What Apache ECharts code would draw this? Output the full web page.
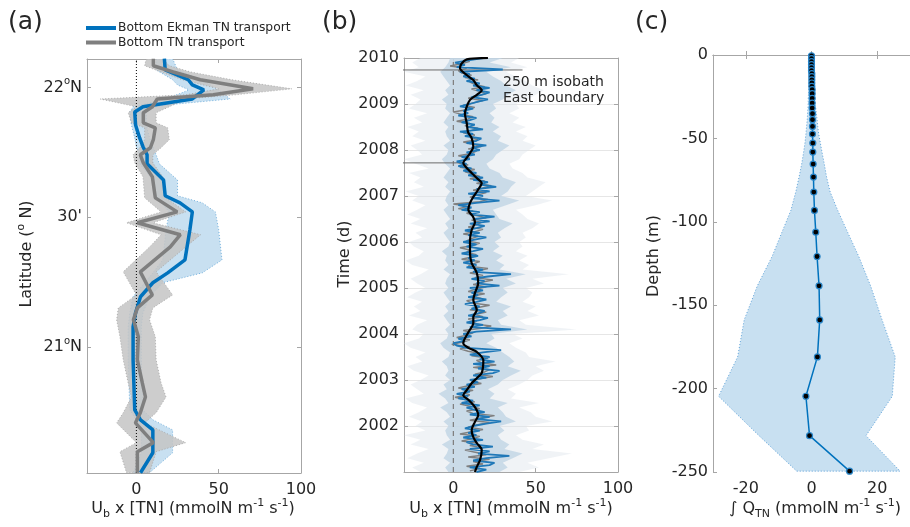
<!DOCTYPE html>
<html><head><meta charset="utf-8">
<script src="https://cdn.jsdelivr.net/npm/echarts@6/dist/echarts.min.js"></script>
<style>html,body{margin:0;padding:0;background:#fff}#c{width:910px;height:527px}</style>
</head><body><div id="c"></div>
<script>
// ---------- Panel (a) data ----------
const blueLat = [22.111,22.068,22.030,22.010,21.991,21.956,21.937,21.926,21.906,21.856,21.806,21.772,21.741,21.706,21.644,21.583,21.556,21.521,21.452,21.336,21.286,21.248,21.194,21.132,21.078,20.951,20.758,20.720,20.681,20.593,20.516];
const blueVal = [17,17.5,31.5,34,41,34,14.5,4,-1,-0.5,2,4,6.5,6.5,16.5,17.5,26.5,34,32.5,29.5,19,10,2.5,-0.5,-2,-2,-1,2.5,10,10,2.5];
const blueLo  = [12,12,22,25,32,18,5,-2,-4,-3,-1,0,2,2,10,12,15,20,18,16,10,5,-2,-4,-5,-5,-4,0,3,3,-2];
const blueHi  = [22,25,40,45,50,57,25,12,6,6,8,10,12,14,25,25,40,48,50,52,40,16,8,4,3,3,4,10,22,22,8];

const grayLat = [22.111,22.084,22.060,22.030,21.995,21.972,21.956,21.926,21.903,21.864,21.845,21.799,21.768,21.741,21.710,21.656,21.575,21.521,21.479,21.433,21.386,21.290,21.201,21.151,21.105,21.040,20.951,20.862,20.808,20.747,20.708,20.632,20.597,20.516];
const grayVal = [10.3,10.3,22.4,38.8,70.9,46.7,12.7,9.7,4.2,4.2,11.5,10.3,8.5,2.4,4.2,9.7,11.5,24.8,0.6,26.7,20.6,2.4,9.7,0.6,-1.8,1.2,0.6,3.6,5.5,2.4,-0.6,10.3,0.6,0.6];
const grayLo  = [6,5,15,28,50,30,-22,0,-5,-3,5,5,2,-2,-1,4,5,15,-6,15,8,-8,0,-11,-12,-10,-8,-5,-3,-8,-12,0,-10,-6];
const grayHi  = [16,20,33,58,94.5,60,30,20,12,12,19,20,15,10,10,16,18,30,10,39,30,12,22,10,8,11.5,12,15,18,12,5,30,12,8];
const latTicks = [21, 21.5, 22];
const xTicksAB = [0, 50, 100];

// ---------- Panel (b) data ----------
const bStart = 2001, bStep = 0.05;   // daily record shown at ~0.05 yr resolution
const ekmanB = [14,20,10,22,25,12,20,34,15,22,10,24,12,8,18,6,14,9,16,7,
 12,20,29,14,22,10,19,13,8,16,5,12,3,9,2,10,5,13,8,15,
 10,20,12,24,28,15,22,12,25,16,22,10,18,29,8,2,0,7,3,11,
 6,14,35,10,18,8,16,21,9,15,19,11,16,7,14,20,9,15,11,18,
 10,28,14,19,11,21,35,12,18,8,14,6,13,9,15,5,12,18,8,14,
 6,13,20,9,16,7,14,19,10,22,13,25,10,16,5,11,3,14,28,12,
 18,9,22,14,26,16,21,12,18,9,14,6,11,3,8,2,10,5,13,8,
 16,11,20,8,14,17,7,12,4,18,9,13,5,10,14,3,9,6,12,4,
 10,15,21,11,17,22,14,22,12,16,8,13,6,10,4,30,2,7,1,9,18];
const tnStart = 2001.025;
const tnB = [10,16,8,18,12,22,9,20,14,7,18,10,15,5,12,16,4,11,18,9,
 14,22,10,17,25,12,8,16,11,4,13,7,1,10,6,12,3,9,17,11,
 16,24,13,19,22,12,26,17,14,21,11,16,9,4,10,-1,6,10,2,8,
 12,6,17,23,11,14,9,18,13,20,10,15,22,11,8,17,12,19,9,14,
 20,12,17,24,13,18,10,15,21,9,12,16,5,11,14,8,10,4,12,16,
 8,11,15,6,13,18,9,14,17,11,20,14,8,12,3,9,0,16,21,10,
 15,20,12,18,23,14,19,10,16,12,7,13,4,9,2,6,10,3,11,14,
 9,17,12,6,15,10,13,6,11,15,7,10,2,9,12,5,0,8,13,6,
 12,18,9,14,20,16,11,19,13,10,15,7,11,5,3,8,-2,5,10];
const spikeYears = [2007.72, 2009.74];
const spikeLeft  = [-45, -35];
const spikeRight = [2, 42];
const smoothYear = [2010.00,2009.97,2009.88,2009.78,2009.63,2009.52,2009.41,2009.30,2009.20,2009.09,2008.94,2008.80,2008.59,2008.39,2008.26,2008.07,2007.93,2007.83,2007.72,2007.61,2007.50,2007.39,2007.28,2007.13,2006.98,2006.85,2006.70,2006.54,2006.43,2006.26,2006.04,2005.76,2005.54,2005.33,2005.11,2004.89,2004.74,2004.52,2004.37,2004.24,2004.04,2003.80,2003.70,2003.61,2003.43,2003.15,2003.04,2002.93,2002.78,2002.67,2002.57,2002.41,2002.24,2002.09,2001.91,2001.76,2001.63,2001.48,2001.26,2001.11,2001.00];
const smoothVal  = [21.0,8.1,5.0,4.0,8.1,12.1,14.2,17.2,14.2,10.1,8.1,7.0,8.1,8.9,11.1,12.1,10.1,8.1,6.0,8.1,11.1,14.2,17.2,14.9,12.1,10.1,9.1,12.1,13.1,11.1,10.1,10.1,11.1,14.2,15.1,13.1,12.1,14.2,12.1,12.1,9.1,6.0,9.1,14.2,18.2,17.2,14.2,11.1,8.1,6.0,9.1,13.1,15.1,13.1,11.1,12.1,14.2,17.2,16.2,14.2,13.1];
const bandStep = 0.1;
const innerLo = [-3,-5,-2,-6,-4,-3,-7,-2,-4,-5,
 -3,-6,-2,-4,-8,-3,-5,-9,-4,-6,
 -2,-5,-3,-4,-7,-3,-2,-6,-8,-4,
 -3,-5,-2,-4,-6,-3,-5,-2,-4,-6,
 -3,-5,-4,-2,-6,-3,-5,-4,-7,-3,
 -2,-4,-6,-3,-5,-2,-4,-6,-3,-5,
 -4,-2,-5,-3,-6,-4,-2,-5,-7,-4,
 -3,-6,-2,-4,-5,-3,-6,-4,-2,-5,
 -4,-7,-3,-5,-2,-4,-6,-8,-5,-3,-2];
const innerHi = [28,33,30,36,42,31,34,29,27,31,
 28,38,32,30,27,33,22,25,21,27,
 30,35,41,33,37,34,30,26,20,25,
 23,45,29,27,33,30,35,26,29,33,
 30,38,32,44,28,31,26,30,24,28,
 25,29,27,31,36,28,26,24,32,40,
 29,33,35,38,30,28,22,20,24,26,
 30,34,27,29,24,28,23,25,22,26,
 24,30,33,38,32,29,24,20,35,22,30];
const outerLo = [-20,-25,-18,-28,-22,-15,-26,-20,-30,-17,
 -23,-19,-27,-21,-16,-25,-29,-18,-22,-26,
 -20,-15,-24,-28,-19,-23,-17,-26,-30,-21,
 -18,-25,-22,-16,-27,-20,-24,-19,-28,-23,
 -17,-22,-26,-20,-15,-25,-29,-21,-18,-24,
 -27,-19,-23,-16,-26,-20,-28,-22,-17,-25,
 -21,-29,-18,-24,-20,-27,-15,-23,-30,-19,
 -22,-26,-17,-25,-21,-28,-19,-24,-16,-27,
 -23,-20,-26,-18,-29,-22,-17,-30,-21,-25,-20];
const outerHi = [40,52,45,58,72,48,55,42,38,46,
 44,60,50,47,40,52,35,38,33,40,
 45,48,55,50,62,46,44,38,34,42,
 36,75,44,40,52,45,50,42,46,48,
 44,55,48,70,42,46,40,45,38,42,
 40,44,42,48,52,45,42,38,50,60,
 44,48,52,56,45,42,36,34,40,42,
 46,50,42,45,38,44,36,40,34,40,
 38,45,50,55,48,44,38,32,45,35,40];

// ---------- Panel (c) data ----------
const depthC = [-0.5,-2.2,-4.0,-5.8,-7.6,-9.4,-11.2,-13.0,-14.9,-16.8,-18.8,-20.8,-23.2,-26.0,-28.8,-31.8,-35.2,-38.8,-42.8,-47.4,-52.8,-58.2,-65.4,-73.2,-82.2,-93.2,-106.2,-120.8,-138.4,-158.8,-181,-204.6,-228.2,-249.5];
const qC   = [0,0,0,0,0,0,0.1,0.1,0.1,0.1,0.1,0.2,0.2,0.2,0.2,0.2,0.3,0.3,0.3,0.3,0.4,0.4,0.5,0.6,0.7,0.9,1.3,1.7,2.3,2.5,1.8,-1.7,-0.6,11.6];
const qLo  = [-0.3,-0.4,-0.4,-0.5,-0.5,-0.6,-0.6,-0.7,-0.7,-0.8,-0.8,-0.9,-0.9,-1.0,-1.0,-1.1,-1.2,-1.3,-1.5,-1.7,-2.0,-2.4,-3.0,-3.8,-4.8,-6.3,-9.0,-12.0,-16.5,-20.5,-22.5,-28.3,-16.0,-4.5];
const qHi  = [0.3,0.4,0.4,0.5,0.5,0.5,0.6,0.6,0.6,0.7,0.7,0.8,0.9,1.0,1.1,1.3,1.5,1.7,1.9,2.2,2.7,3.2,3.9,4.6,5.7,8.0,11.0,14.4,18.0,21.5,25.5,24.6,16.6,27.0];
const xTicksC = [-20, 0, 20];

// ---------- build ----------
const FF = 'DejaVu Sans';
const TXT = '#262626';
const AX = '#a6a6a6';
const chart = echarts.init(document.getElementById('c'), null, {renderer:'canvas'});

function band(ys, lo, hi, style, xi, yi){
  return {
    type:'custom', xAxisIndex:xi, yAxisIndex:yi, clip:true, silent:true, z:1,
    data: ys.map((y,i)=>[lo[i], y, hi[i]]),
    encode:{x:[0,2], y:1},
    renderItem:function(params, api){
      if (params.dataIndex !== 0) return null;
      const pts = [];
      for (let i=0;i<ys.length;i++) pts.push(api.coord([lo[i], ys[i]]));
      for (let i=ys.length-1;i>=0;i--) pts.push(api.coord([hi[i], ys[i]]));
      return {type:'polygon', shape:{points:pts}, style:style};
    }
  };
}
const tEkman = ekmanB.map((_,i)=>bStart + i*bStep);
const tTn = tnB.map((_,i)=>tnStart + i*bStep);
const tBand = innerLo.map((_,i)=>bStart + i*bandStep);

function mainX(gi, min, max, ticks){
  return {type:'value', gridIndex:gi, min:min, max:max, position:'bottom',
    axisLine:{show:true, lineStyle:{color:AX, width:1}},
    axisTick:{show:true, inside:true, length:4, customValues:ticks, lineStyle:{color:AX}},
    axisLabel:{customValues:ticks, color:TXT, fontSize:16, fontFamily:FF, margin:9},
    splitLine:{show:false}};
}
function topX(gi, min, max, ticks){
  return {type:'value', gridIndex:gi, min:min, max:max, position:'top',
    axisLine:{show:true, onZero:false, lineStyle:{color:AX, width:1}},
    axisTick:{show:true, inside:true, length:4, customValues:ticks, lineStyle:{color:AX}},
    axisLabel:{show:false}, splitLine:{show:false}};
}
const supRich = {n:{fontSize:16, fontFamily:FF, color:TXT, lineHeight:22}, s:{fontSize:10, fontFamily:FF, color:TXT, lineHeight:12, verticalAlign:'top'}};
const titleRich = {n:{fontSize:16, fontFamily:FF, fill:TXT, lineHeight:22}, b:{fontSize:11, fontFamily:FF, fill:TXT, lineHeight:12, verticalAlign:'bottom'}, p:{fontSize:11, fontFamily:FF, fill:TXT, lineHeight:12, verticalAlign:'top'}};

const option = {
  animation:false,
  backgroundColor:'#ffffff',
  textStyle:{fontFamily:FF},
  grid:[
    {left:87, top:59, width:214, height:414},
    {left:404, top:58, width:214, height:414},
    {left:713, top:55, width:205, height:417}
  ],
  legend:{
    data:['Bottom Ekman TN transport','Bottom TN transport'],
    orient:'vertical', left:86, top:22, itemWidth:30, itemHeight:4, itemGap:2.5, icon:'rect',
    padding:0, textStyle:{fontSize:12.3, color:TXT, fontFamily:FF, padding:[0,0,0,-3]}
  },
  xAxis:[
    mainX(0,-30,100,xTicksAB), topX(0,-30,100,xTicksAB),
    mainX(1,-30,100,xTicksAB), topX(1,-30,100,xTicksAB),
    mainX(2,-30,30,xTicksC), topX(2,-30,30,xTicksC)
  ],
  yAxis:[
    {type:'value', gridIndex:0, min:20.515, max:22.11, position:'left',
      axisLine:{show:true, onZero:false, lineStyle:{color:AX}},
      axisTick:{show:true, inside:true, length:4, customValues:latTicks, lineStyle:{color:AX}},
      axisLabel:{customValues:latTicks, margin:5, color:TXT, fontSize:16, fontFamily:FF,
        formatter:function(v){ if (Math.abs(v-21.5)<1e-6) return "{n|30'}"; return '{n|'+Math.round(v)+'}{s|o}{n|N}'; },
        rich:supRich},
      splitLine:{show:false}},
    {type:'value', gridIndex:0, min:20.515, max:22.11, position:'right',
      axisLine:{show:true, onZero:false, lineStyle:{color:AX}},
      axisTick:{show:true, inside:true, length:4, customValues:latTicks, lineStyle:{color:AX}},
      axisLabel:{show:false}, splitLine:{show:false}},
    {type:'value', gridIndex:1, min:2001, max:2010, interval:1, position:'left',
      axisLine:{show:true, onZero:false, lineStyle:{color:AX}},
      axisTick:{show:true, inside:true, length:4, lineStyle:{color:AX}},
      axisLabel:{margin:5, color:TXT, fontSize:16, fontFamily:FF, formatter:function(v){return v===2001?'':String(v);}},
      splitLine:{show:true, lineStyle:{color:'#e6e6e6', width:1}}},
    {type:'value', gridIndex:1, min:2001, max:2010, interval:1, position:'right',
      axisLine:{show:true, onZero:false, lineStyle:{color:AX}},
      axisTick:{show:true, inside:true, length:4, lineStyle:{color:AX}},
      axisLabel:{show:false}, splitLine:{show:false}},
    {type:'value', gridIndex:2, min:-250, max:0, interval:50, position:'left',
      axisLine:{show:true, onZero:false, lineStyle:{color:AX}},
      axisTick:{show:true, inside:true, length:4, lineStyle:{color:AX}},
      axisLabel:{margin:5, color:TXT, fontSize:16, fontFamily:FF},
      splitLine:{show:false}}
  ],
  series:[
    // panel (a)
    band(blueLat, blueLo, blueHi, {fill:'rgb(200,224,241)', stroke:'#5aa2d6', lineWidth:0.8, lineDash:[1,2]}, 0, 0),
    band(grayLat, grayLo, grayHi, {fill:'rgba(196,196,196,0.85)', stroke:'#a0a0a0', lineWidth:0.8, lineDash:[1,2]}, 0, 0),
    {type:'line', xAxisIndex:0, yAxisIndex:0, data:[[0,20.515],[0,22.11]], showSymbol:false, silent:true,
      lineStyle:{color:'#000', width:1, type:[1,2]}, z:3},
    {name:'Bottom Ekman TN transport', type:'line', xAxisIndex:0, yAxisIndex:0, color:'#0072BD',
      data:blueLat.map((y,i)=>[blueVal[i], y]), showSymbol:false, lineStyle:{color:'#0072BD', width:3.5}, z:4},
    {name:'Bottom TN transport', type:'line', xAxisIndex:0, yAxisIndex:0, color:'#7f7f7f',
      data:grayLat.map((y,i)=>[grayVal[i], y]), showSymbol:false, lineStyle:{color:'#7f7f7f', width:3.5}, z:5},
    // panel (b)
    band(tBand, outerLo, outerHi, {fill:'rgba(222,229,236,0.45)'}, 2, 2),
    band(tBand, innerLo, innerHi, {fill:'rgba(193,213,229,0.8)'}, 2, 2),
    {type:'line', xAxisIndex:2, yAxisIndex:2, data:[[0,2001],[0,2010]], showSymbol:false, silent:true,
      lineStyle:{color:'#808080', width:1.3, type:[5,4]}, z:3},
    {type:'line', xAxisIndex:2, yAxisIndex:2, data:tTn.map((t,i)=>[tnB[i], t]), showSymbol:false, silent:true,
      lineStyle:{color:'#808080', width:1.4}, z:4},
    ...spikeYears.map((t,i)=>({type:'line', xAxisIndex:2, yAxisIndex:2, data:[[spikeLeft[i], t],[spikeRight[i], t]], showSymbol:false, silent:true,
      lineStyle:{color:'#6a6a6a', width:1}, z:4})),
    {type:'line', xAxisIndex:2, yAxisIndex:2, data:tEkman.map((t,i)=>[ekmanB[i], t]), showSymbol:false, silent:true,
      lineStyle:{color:'#1f78b8', width:1.8}, z:5},
    {type:'line', xAxisIndex:2, yAxisIndex:2, data:smoothYear.map((t,i)=>[smoothVal[i], t]), showSymbol:false, silent:true, smooth:0.3,
      lineStyle:{color:'#000', width:2.2}, z:6},
    // panel (c)
    band(depthC, qLo, qHi, {fill:'rgb(200,224,241)', stroke:'#3f8fd0', lineWidth:0.8, lineDash:[1,2]}, 4, 4),
    {type:'line', xAxisIndex:4, yAxisIndex:4, data:depthC.map((d,i)=>[qC[i], d]), symbol:'circle', symbolSize:6, silent:true,
      lineStyle:{color:'#0072BD', width:1.5}, itemStyle:{color:'#000', borderColor:'#2a86c9', borderWidth:1.2}, z:5}
  ],
  graphic:[
    {type:'text', x:8, y:22, style:{text:'(a)', fontSize:25, fontFamily:FF, fill:TXT, verticalAlign:'middle'}},
    {type:'text', x:322, y:22, style:{text:'(b)', fontSize:25, fontFamily:FF, fill:TXT, verticalAlign:'middle'}},
    {type:'text', x:635, y:22, style:{text:'(c)', fontSize:25, fontFamily:FF, fill:TXT, verticalAlign:'middle'}},
    {type:'text', x:503, y:82, style:{text:'250 m isobath', fontSize:14, fontFamily:FF, fill:TXT, verticalAlign:'middle'}, z:10},
    {type:'text', x:503, y:98, style:{text:'East boundary', fontSize:14, fontFamily:FF, fill:TXT, verticalAlign:'middle'}, z:10},
    // axis titles
    {type:'text', x:193, y:509, style:{align:'center', verticalAlign:'middle',
      text:'{n|U}{b|b}{n| x [TN] (mmolN m}{p|-1}{n| s}{p|-1}{n|)}', rich:titleRich}},
    {type:'text', x:511, y:509, style:{align:'center', verticalAlign:'middle',
      text:'{n|U}{b|b}{n| x [TN] (mmolN m}{p|-1}{n| s}{p|-1}{n|)}', rich:titleRich}},
    {type:'text', x:815, y:509, style:{align:'center', verticalAlign:'middle',
      text:'{n|\u222B Q}{b|TN}{n| (mmolN m}{p|-1}{n| s}{p|-1}{n|)}', rich:titleRich}},
    {type:'text', x:27, y:254, rotation:Math.PI/2, style:{align:'center', verticalAlign:'middle',
      text:'{n|Latitude (}{p|o}{n| N)}', rich:titleRich}},
    {type:'text', x:345, y:254, rotation:Math.PI/2, style:{align:'center', verticalAlign:'middle', text:'Time (d)', fontSize:16, fontFamily:FF, fill:TXT}},
    {type:'text', x:654, y:256, rotation:Math.PI/2, style:{align:'center', verticalAlign:'middle', text:'Depth (m)', fontSize:16, fontFamily:FF, fill:TXT}}
  ]
};
chart.setOption(option);
</script></body></html>
